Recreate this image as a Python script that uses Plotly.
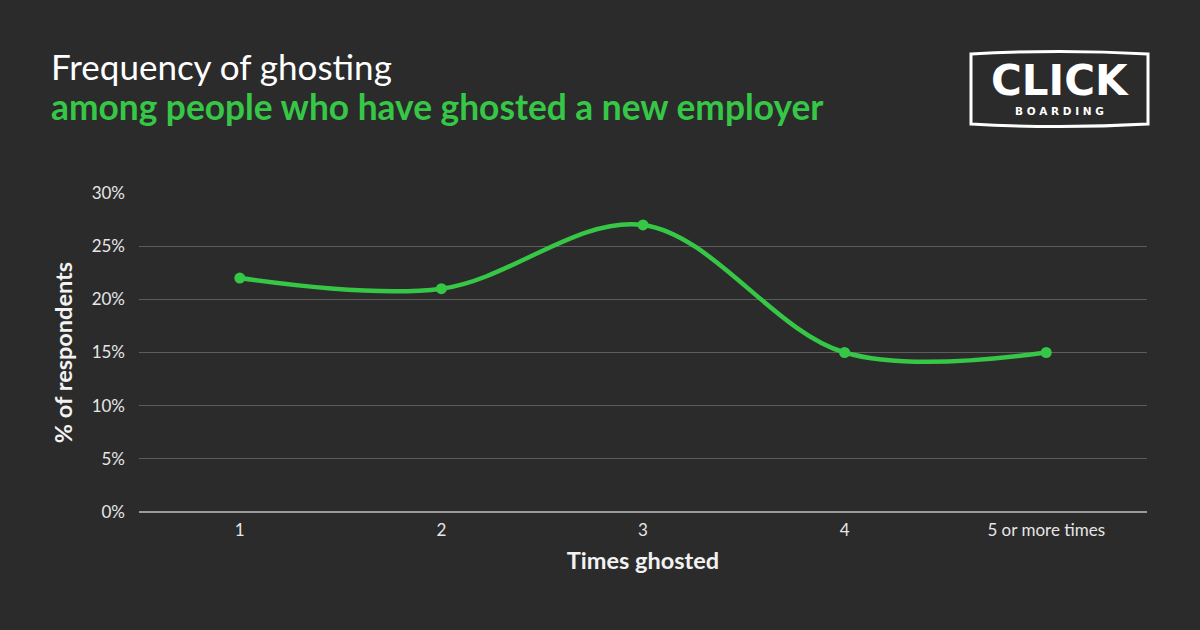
import plotly.graph_objects as go

categories = ["1", "2", "3", "4", "5 or more times"]
values = [22, 21, 27, 15, 15]
y_ticks = [0, 5, 10, 15, 20, 25, 30]
y_tick_labels = ["0%", "5%", "10%", "15%", "20%", "25%", "30%"]

W, H = 1200, 630
L, R, T, B = 139, 53, 193, 118
PW, PH = W - L - R, H - T - B

def px(x):
    return (x - L) / PW

def py(y):
    return (H - B - y) / PH

BG = "#2b2b2b"
GREEN = "#36c747"

fig = go.Figure()
fig.add_trace(go.Scatter(
    x=categories, y=values, mode="lines+markers",
    line=dict(color=GREEN, width=4.5, shape="spline", smoothing=1),
    marker=dict(color=GREEN, size=11),
    hoverinfo="skip",
))

fig.update_layout(
    width=W, height=H,
    paper_bgcolor=BG, plot_bgcolor=BG,
    margin=dict(l=L, r=R, t=T, b=B),
    showlegend=False,
    font=dict(family="Lato, Open Sans, sans-serif", color="#e6e6e6"),
    xaxis=dict(
        type="category", range=[-0.5, 4.5], showgrid=False, zeroline=False,
        showline=False, ticks="", ticklabelstandoff=6,
        tickfont=dict(size=17, color="#e6e6e6"),
        title=dict(text="<b>Times ghosted</b>", font=dict(size=23.5, color="#f2f2f2"), standoff=13),
    ),
    yaxis=dict(
        range=[0, 30], tickvals=y_ticks, ticktext=y_tick_labels,
        showgrid=True, gridcolor="#5c5c5c", gridwidth=1,
        zeroline=True, zerolinecolor="#9a9a9a", zerolinewidth=1.5,
        showline=False, ticks="", ticklabelstandoff=13,
        tickfont=dict(size=17, color="#e6e6e6"),
        title=dict(text="<b>% of respondents</b>", font=dict(size=23.5, color="#f2f2f2"), standoff=12),
    ),
)

# Titles
fig.add_annotation(xref="paper", yref="paper", x=px(49), y=py(66), xanchor="left", yanchor="middle",
                   text="Frequency of ghosting", showarrow=False,
                   font=dict(size=35, color="#ffffff", family="Lato"))
fig.add_annotation(xref="paper", yref="paper", x=px(49), y=py(106), xanchor="left", yanchor="middle",
                   text="<b>among people who have ghosted a new employer</b>", showarrow=False,
                   font=dict(size=35.3, color=GREEN, family="Lato"))

# Logo frame with slightly bulging top and bottom
x0, x1, y0, y1 = 971, 1148, 54, 124
path = (f"M {px(x0)},{py(y0)} Q {px((x0+x1)/2)},{py(y0-5)} {px(x1)},{py(y0)} "
        f"L {px(x1)},{py(y1)} Q {px((x0+x1)/2)},{py(y1+5)} {px(x0)},{py(y1)} Z")
fig.add_shape(type="path", xref="paper", yref="paper", path=path,
              line=dict(color="#ffffff", width=3), fillcolor=BG, layer="above")
fig.add_annotation(xref="paper", yref="paper", x=px(1059.5), y=py(81), xanchor="center", yanchor="middle",
                   text="<b>CLICK</b>", showarrow=False,
                   font=dict(size=42, color="#ffffff", family="DejaVu Sans"))
fig.add_annotation(xref="paper", yref="paper", x=px(1059.5), y=py(111), xanchor="center", yanchor="middle",
                   text="<b>B O A R D I N G</b>", showarrow=False,
                   font=dict(size=10.5, color="#ffffff", family="DejaVu Sans"))

fig.write_html("out.html")
